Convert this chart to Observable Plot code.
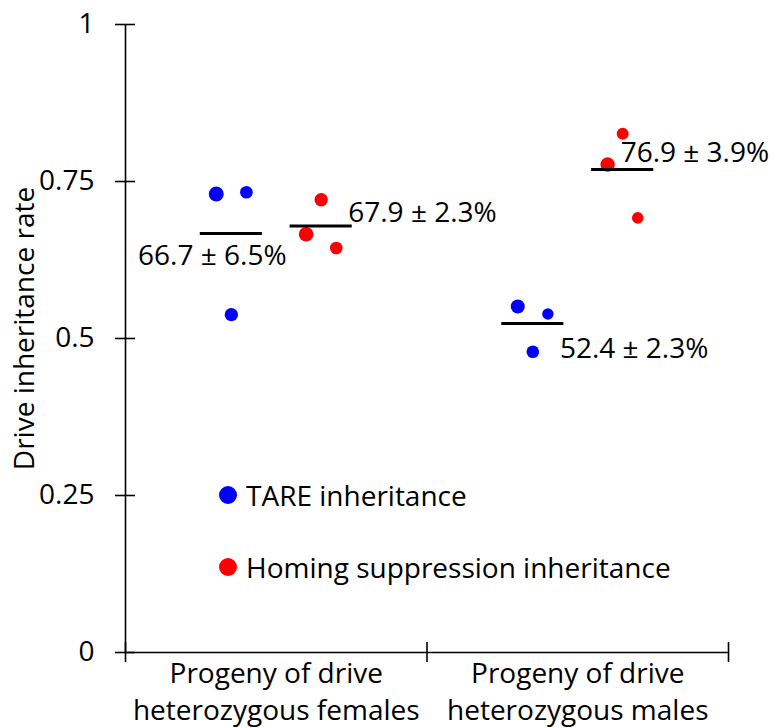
<!DOCTYPE html>
<html><head><meta charset="utf-8">
<script src="https://cdn.jsdelivr.net/npm/d3@7"></script>
<script src="https://cdn.jsdelivr.net/npm/@observablehq/plot@0.6"></script>
<style>
body{margin:0;background:#fff;font-family:"Open Sans", Lato, sans-serif}
#wrap{position:relative;width:774px;height:728px}
.legend{position:absolute;left:219px;height:36px;font-size:28px;line-height:36px;display:flex;align-items:center;color:#000;white-space:nowrap}
.legend .dot{display:inline-block;width:18px;height:18px;border-radius:50%;margin-right:9px}
</style></head><body><div id="wrap"></div>
<script>
// ---- data ----
const groups = ["Progeny of drive\nheterozygous females", "Progeny of drive\nheterozygous males"];
const seriesNames = ["TARE inheritance", "Homing suppression inheritance"];
const seriesColors = ["#0000ff", "#ff0000"];
const tareFemales = [0.730, 0.733, 0.538];
const tareMales = [0.551, 0.539, 0.479];
const homingFemales = [0.721, 0.666, 0.644];
const homingMales = [0.826, 0.777, 0.692];
const tareMeans = [0.667, 0.524];
const tareSEM = [0.065, 0.023];
const homingMeans = [0.679, 0.769];
const homingSEM = [0.023, 0.039];
const yTicks = [0, 0.25, 0.5, 0.75, 1];
const yTickLabels = ["0", "0.25", "0.5", "0.75", "1"];
const xTicks = [0, 1, 2];
const yTitle = "Drive inheritance rate";

// ---- layout / styling constants ----
const dotRadius = { tare: [[7.5, 6.3, 6.7], [7, 5.7, 6.3]], homing: [[6.7, 7.3, 6.3], [6, 7.2, 5.8]] };
const jitterOrder = { tare: [-1, 1, 0], homing: [0, -1, 1] };
const groupOffset = 0.149, jitterStep = 0.05, meanHalf = 0.103;
const FS = 28;

const points = [];
[[tareFemales, tareMales], [homingFemales, homingMales]].forEach((byGroup, s) => {
  const key = s === 0 ? "tare" : "homing";
  byGroup.forEach((vals, g) => {
    vals.forEach((v, i) => {
      points.push({
        x: g + 0.5 + (s === 0 ? -groupOffset : groupOffset) + jitterOrder[key][i] * jitterStep,
        y: v, r: dotRadius[key][g][i], color: seriesColors[s]
      });
    });
  });
});
const means = [];
[[tareMeans, tareSEM], [homingMeans, homingSEM]].forEach(([m, e], s) => {
  m.forEach((v, g) => means.push({
    s, g, cx: g + 0.5 + (s === 0 ? -groupOffset : groupOffset), y: v,
    label: `${(v * 100).toFixed(1)} ± ${(e[g] * 100).toFixed(1)}%`
  }));
});
const lab = (s, g) => [means.find(d => d.s === s && d.g === g)];

const chart = Plot.plot({
  width: 774, height: 728,
  marginLeft: 125, marginRight: 46, marginTop: 24, marginBottom: 76,
  x: { domain: [0, 2], axis: null },
  y: { domain: [0, 1], axis: null },
  r: { type: "identity" },
  style: { fontFamily: "'Open Sans', Lato, sans-serif", fontSize: FS + "px", color: "#000", background: "#fff" },
  marks: [
    Plot.ruleX([0], { stroke: "#000", strokeWidth: 1.6 }),
    Plot.ruleY([0], { stroke: "#000", strokeWidth: 1.6 }),
    Plot.ruleY(yTicks, { y: d => d, x1: 0, x2: 0, insetLeft: -10, insetRight: -10, stroke: "#000", strokeWidth: 1.6 }),
    Plot.ruleX(xTicks, { x: d => d, y1: 0, y2: 0, insetTop: -10, insetBottom: -10, stroke: "#000", strokeWidth: 1.6 }),
    Plot.text(yTicks, { x: 0, y: d => d, text: (d, i) => yTickLabels[i], textAnchor: "end", dx: -31, fontSize: FS }),
    Plot.text(groups, { x: (d, i) => i + 0.5, y: 0, text: d => d, lineAnchor: "top", dy: 5, lineHeight: 1.3, fontSize: FS }),
    Plot.text([yTitle], { frameAnchor: "left", textAnchor: "middle", rotate: -90, dx: -100, dy: -10, fontSize: FS }),
    Plot.dot(points, { x: "x", y: "y", r: "r", fill: "color", stroke: null }),
    Plot.ruleY(means, { y: "y", x1: d => d.cx - meanHalf, x2: d => d.cx + meanHalf, stroke: "#000", strokeWidth: 3 }),
    Plot.text(lab(0, 0), { x: "cx", y: "y", text: "label", textAnchor: "middle", dx: -19, dy: 22, fontSize: FS }),
    Plot.text(lab(1, 0), { x: d => d.cx + meanHalf, y: "y", text: "label", textAnchor: "start", dx: -4, dy: -13, fontSize: FS }),
    Plot.text(lab(0, 1), { x: d => d.cx + meanHalf, y: "y", text: "label", textAnchor: "start", dx: -4, dy: 26, fontSize: FS }),
    Plot.text(lab(1, 1), { x: "cx", y: "y", text: "label", textAnchor: "start", dx: -2, dy: -17, fontSize: FS })
  ]
});
const wrap = document.getElementById("wrap");
wrap.appendChild(chart);
const legendTops = [477, 549];
seriesNames.forEach((n, i) => {
  const div = document.createElement("div");
  div.className = "legend";
  div.style.top = legendTops[i] + "px";
  div.innerHTML = `<span class="dot" style="background:${seriesColors[i]}"></span><span></span>`;
  div.lastChild.textContent = n;
  wrap.appendChild(div);
});
</script>
</body></html>
